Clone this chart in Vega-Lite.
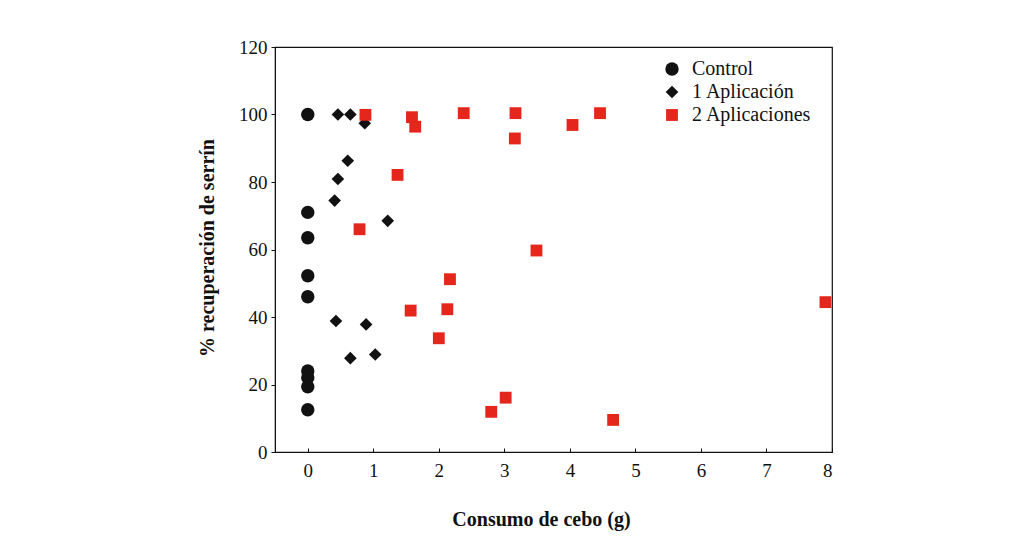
{
  "$schema": "https://vega.github.io/schema/vega-lite/v6.json",
  "width": 557,
  "height": 405,
  "autosize": {"type": "none"},
  "padding": {"left": 275, "top": 47, "right": 197, "bottom": 103},
  "background": "white",
  "config": {
    "font": "Liberation Serif",
    "view": {"stroke": "#111111", "strokeWidth": 1.2},
    "axis": {
      "labelFont": "Liberation Serif",
      "labelFontSize": 19,
      "labelColor": "#111111",
      "titleFont": "Liberation Serif",
      "titleFontSize": 20,
      "titleFontWeight": "bold",
      "titleColor": "#111111",
      "domainColor": "#111111",
      "tickColor": "#111111",
      "grid": false
    },
    "legend": {
      "labelFont": "Liberation Serif",
      "labelFontSize": 20,
      "labelColor": "#111111"
    }
  },
  "data": {
    "values": [
      {"grupo": "Control", "consumo": 0, "recuperacion": 100},
      {"grupo": "Control", "consumo": 0, "recuperacion": 71},
      {"grupo": "Control", "consumo": 0, "recuperacion": 63.5},
      {"grupo": "Control", "consumo": 0, "recuperacion": 52.2},
      {"grupo": "Control", "consumo": 0, "recuperacion": 46},
      {"grupo": "Control", "consumo": 0, "recuperacion": 24},
      {"grupo": "Control", "consumo": 0, "recuperacion": 22},
      {"grupo": "Control", "consumo": 0, "recuperacion": 19.3},
      {"grupo": "Control", "consumo": 0, "recuperacion": 12.5},
      {"grupo": "1 Aplicación", "consumo": 0.46, "recuperacion": 100},
      {"grupo": "1 Aplicación", "consumo": 0.65, "recuperacion": 100},
      {"grupo": "1 Aplicación", "consumo": 0.87, "recuperacion": 97.4},
      {"grupo": "1 Aplicación", "consumo": 0.61, "recuperacion": 86.3},
      {"grupo": "1 Aplicación", "consumo": 0.46, "recuperacion": 80.9},
      {"grupo": "1 Aplicación", "consumo": 0.41, "recuperacion": 74.5},
      {"grupo": "1 Aplicación", "consumo": 1.22, "recuperacion": 68.5},
      {"grupo": "1 Aplicación", "consumo": 0.43, "recuperacion": 38.8},
      {"grupo": "1 Aplicación", "consumo": 0.89, "recuperacion": 37.8},
      {"grupo": "1 Aplicación", "consumo": 0.65, "recuperacion": 27.8},
      {"grupo": "1 Aplicación", "consumo": 1.03, "recuperacion": 28.9},
      {"grupo": "2 Aplicaciones", "consumo": 0.88, "recuperacion": 99.9},
      {"grupo": "2 Aplicaciones", "consumo": 1.59, "recuperacion": 99.2},
      {"grupo": "2 Aplicaciones", "consumo": 1.64, "recuperacion": 96.4},
      {"grupo": "2 Aplicaciones", "consumo": 2.38, "recuperacion": 100.4},
      {"grupo": "2 Aplicaciones", "consumo": 3.17, "recuperacion": 100.4},
      {"grupo": "2 Aplicaciones", "consumo": 4.46, "recuperacion": 100.4},
      {"grupo": "2 Aplicaciones", "consumo": 3.16, "recuperacion": 92.9},
      {"grupo": "2 Aplicaciones", "consumo": 4.04, "recuperacion": 96.9},
      {"grupo": "2 Aplicaciones", "consumo": 1.37, "recuperacion": 82.1},
      {"grupo": "2 Aplicaciones", "consumo": 0.79, "recuperacion": 66},
      {"grupo": "2 Aplicaciones", "consumo": 3.49, "recuperacion": 59.7},
      {"grupo": "2 Aplicaciones", "consumo": 2.17, "recuperacion": 51.2},
      {"grupo": "2 Aplicaciones", "consumo": 1.57, "recuperacion": 41.9},
      {"grupo": "2 Aplicaciones", "consumo": 2.13, "recuperacion": 42.3},
      {"grupo": "2 Aplicaciones", "consumo": 2.0, "recuperacion": 33.7},
      {"grupo": "2 Aplicaciones", "consumo": 7.9, "recuperacion": 44.4},
      {"grupo": "2 Aplicaciones", "consumo": 3.02, "recuperacion": 16.1},
      {"grupo": "2 Aplicaciones", "consumo": 2.8, "recuperacion": 11.9},
      {"grupo": "2 Aplicaciones", "consumo": 4.66, "recuperacion": 9.5}
    ]
  },
  "mark": {"type": "point", "filled": true, "opacity": 1, "clip": true},
  "encoding": {
    "x": {
      "field": "consumo",
      "type": "quantitative",
      "scale": {"domain": [-0.5, 8], "nice": false, "zero": false},
      "axis": {
        "values": [0, 1, 2, 3, 4, 5, 6, 7, 8],
        "title": "Consumo de cebo (g)",
        "tickSize": -4,
        "labelPadding": 13,
        "titleX": 266,
        "titleY": 73,
        "titleBaseline": "alphabetic",
        "titleAnchor": null,
        "titleAlign": "center"
      }
    },
    "y": {
      "field": "recuperacion",
      "type": "quantitative",
      "scale": {"domain": [0, 120], "nice": false},
      "axis": {
        "values": [0, 20, 40, 60, 80, 100, 120],
        "title": "% recuperación de serrín",
        "tickSize": 4,
        "labelPadding": 4,
        "titleX": -62,
        "titleY": 200.5,
        "titleBaseline": "alphabetic",
        "titleAngle": -90,
        "titleAlign": "center"
      }
    },
    "shape": {
      "field": "grupo",
      "type": "nominal",
      "scale": {"domain": ["Control", "1 Aplicación", "2 Aplicaciones"], "range": ["circle", "diamond", "square"]},
      "legend": {
        "title": null,
        "orient": "none",
        "legendX": 387,
        "legendY": 12,
        "symbolSize": 120,
        "labelOffset": 10,
        "rowPadding": 3,
        "padding": 0,
        "symbolStrokeWidth": 0
      }
    },
    "color": {
      "field": "grupo",
      "type": "nominal",
      "scale": {"domain": ["Control", "1 Aplicación", "2 Aplicaciones"], "range": ["#111111", "#111111", "#e5261c"]},
      "legend": {
        "title": null,
        "orient": "none",
        "legendX": 387,
        "legendY": 12,
        "symbolSize": 120,
        "labelOffset": 10,
        "rowPadding": 3,
        "padding": 0,
        "symbolStrokeWidth": 0
      }
    },
    "size": {
      "field": "grupo",
      "type": "nominal",
      "scale": {"domain": ["Control", "1 Aplicación", "2 Aplicaciones"], "range": [180, 140, 205]},
      "legend": null
    }
  }
}
